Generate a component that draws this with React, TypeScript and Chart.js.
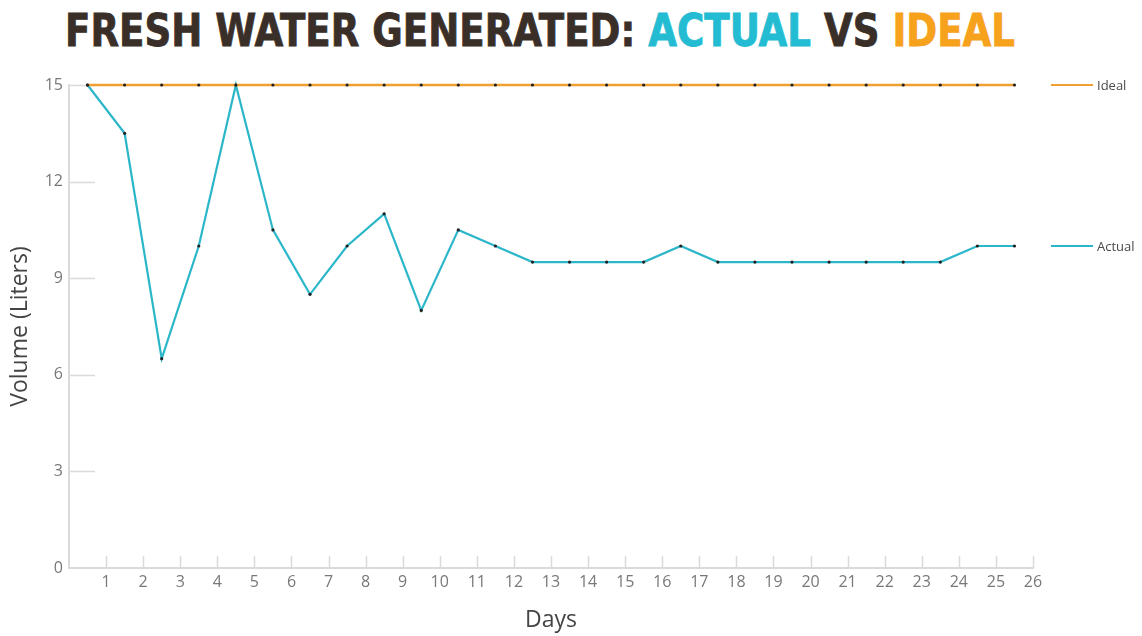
import React, { useEffect, useLayoutEffect, useRef } from 'react';
import { Chart, registerables } from 'chart.js';

Chart.register(...registerables);

// ---- data ----
const dayPositions = [0.5, 1.5, 2.5, 3.5, 4.5, 5.5, 6.5, 7.5, 8.5, 9.5, 10.5, 11.5, 12.5, 13.5, 14.5, 15.5, 16.5, 17.5, 18.5, 19.5, 20.5, 21.5, 22.5, 23.5, 24.5, 25.5];
const actualLiters = [15, 13.5, 6.5, 10, 15, 10.5, 8.5, 10, 11, 8, 10.5, 10, 9.5, 9.5, 9.5, 9.5, 10, 9.5, 9.5, 9.5, 9.5, 9.5, 9.5, 9.5, 10, 10];
const idealLiters = [15, 15, 15, 15, 15, 15, 15, 15, 15, 15, 15, 15, 15, 15, 15, 15, 15, 15, 15, 15, 15, 15, 15, 15, 15, 15];
const seriesNames = ['Actual', 'Ideal'];
const xAxisTitle = 'Days';
const yAxisTitle = 'Volume (Liters)';
const xRange = [0, 26];
const yRange = [0, 15];
const yStep = 3;

const CYAN = '#2cb6c9';
const ORANGE = '#f0a030';
const AXIS = '#dadada';
const FONT = "'Open Sans', 'DejaVu Sans', sans-serif";

const innerTicks = {
  id: 'innerTicks',
  beforeDatasetsDraw(chart: any) {
    const { ctx, chartArea, scales } = chart;
    const x = scales.x;
    const y = scales.y;
    ctx.save();
    ctx.strokeStyle = AXIS;
    ctx.lineWidth = 1.5;
    y.ticks.forEach((t: any) => {
      if (t.value === yRange[0]) return;
      const py = Math.round(y.getPixelForValue(t.value)) + 0.5;
      ctx.beginPath();
      ctx.moveTo(chartArea.left, py);
      ctx.lineTo(chartArea.left + 26, py);
      ctx.stroke();
    });
    x.ticks.forEach((t: any) => {
      if (t.value === xRange[0]) return;
      const px = Math.round(x.getPixelForValue(t.value)) + 0.5;
      ctx.beginPath();
      ctx.moveTo(px, chartArea.bottom);
      ctx.lineTo(px, chartArea.bottom - 12);
      ctx.stroke();
    });
    ctx.restore();
  },
};

const sideLegend = {
  id: 'sideLegend',
  afterDatasetsDraw(chart: any) {
    const { ctx, chartArea, scales } = chart;
    ctx.save();
    chart.data.datasets.forEach((ds: any) => {
      const last = ds.data[ds.data.length - 1];
      const py = scales.y.getPixelForValue(last.y);
      ctx.strokeStyle = ds.borderColor;
      ctx.lineWidth = 2;
      ctx.beginPath();
      ctx.moveTo(chartArea.right + 18, py);
      ctx.lineTo(chartArea.right + 60, py);
      ctx.stroke();
      ctx.fillStyle = '#4a4a4a';
      ctx.font = `13px ${FONT}`;
      ctx.textBaseline = 'middle';
      ctx.textAlign = 'left';
      ctx.fillText(ds.label, chartArea.right + 64, py + 1);
    });
    ctx.restore();
  },
};

export default function App() {
  const ref = useRef<HTMLCanvasElement | null>(null);
  const titleRef = useRef<HTMLDivElement | null>(null);

  useLayoutEffect(() => {
    const el = titleRef.current;
    if (!el) return;
    el.style.transform = 'none';
    const w = el.getBoundingClientRect().width;
    if (w > 0) el.style.transform = `scaleX(${950 / w})`;
  }, []);

  useEffect(() => {
    if (!ref.current) return;
    const chart = new Chart(ref.current, {
      type: 'line',
      data: {
        datasets: [
          {
            label: seriesNames[1],
            data: dayPositions.map((d, i) => ({ x: d, y: idealLiters[i] })),
            borderColor: ORANGE,
            borderWidth: 2.4,
            pointRadius: 1.6,
            pointBorderWidth: 0,
            pointBackgroundColor: '#222',
            clip: false,
            order: 1,
          },
          {
            label: seriesNames[0],
            data: dayPositions.map((d, i) => ({ x: d, y: actualLiters[i] })),
            borderColor: CYAN,
            borderWidth: 2.2,
            pointRadius: 1.6,
            pointBorderWidth: 0,
            pointBackgroundColor: '#222',
            clip: false,
            order: 2,
          },
        ],
      },
      options: {
        animation: false,
        responsive: false,
        devicePixelRatio: 1,
        layout: { padding: { top: 85, right: 109, bottom: 0, left: 0 } },
        plugins: {
          legend: { display: false },
          tooltip: { enabled: false },
          title: { display: false },
        },
        scales: {
          x: {
            type: 'linear',
            min: xRange[0],
            max: xRange[1],
            grid: { display: false, drawTicks: false },
            border: { display: true, color: AXIS, width: 2 },
            ticks: {
              stepSize: 1,
              autoSkip: false,
              maxRotation: 0,
              padding: 5,
              color: '#787878',
              font: { family: FONT, size: 16 },
              callback: (v: any) => (v === xRange[0] ? '' : String(v)),
            },
            title: {
              display: true,
              text: xAxisTitle,
              color: '#444',
              font: { family: FONT, size: 23 },
              padding: { top: 0, bottom: 2 },
            },
            afterFit: (s: any) => {
              s.height = 68;
            },
          },
          y: {
            type: 'linear',
            min: yRange[0],
            max: yRange[1],
            grid: { display: false, drawTicks: false },
            border: { display: true, color: AXIS, width: 2 },
            ticks: {
              stepSize: yStep,
              padding: 6,
              color: '#787878',
              font: { family: FONT, size: 16 },
            },
            title: {
              display: true,
              text: yAxisTitle,
              color: '#444',
              font: { family: FONT, size: 23 },
              padding: { top: 7, bottom: 0 },
            },
            afterFit: (s: any) => {
              s.width = 69;
            },
          },
        },
      },
      plugins: [innerTicks, sideLegend],
    });
    return () => chart.destroy();
  }, []);

  return (
    <div style={{ position: 'absolute', left: 0, top: 0, width: 1142, height: 636, background: '#fff' }}>
      <div
        ref={titleRef}
        style={{
          position: 'absolute',
          left: 65,
          top: 8,
          fontFamily: "'Liberation Sans Narrow', 'DejaVu Sans Condensed', 'Liberation Sans', sans-serif",
          fontWeight: 'bold',
          fontSize: 45,
          lineHeight: '45px',
          whiteSpace: 'nowrap',
          color: '#3a2f28',
          WebkitTextStroke: '0.8px currentColor',
          transformOrigin: 'left top',
        }}
      >
        FRESH WATER GENERATED: <span style={{ color: '#23bcd2' }}>ACTUAL</span> VS{' '}
        <span style={{ color: '#f6a21c' }}>IDEAL</span>
      </div>
      <canvas ref={ref} width={1142} height={636} style={{ position: 'absolute', left: 0, top: 0 }} />
    </div>
  );
}
